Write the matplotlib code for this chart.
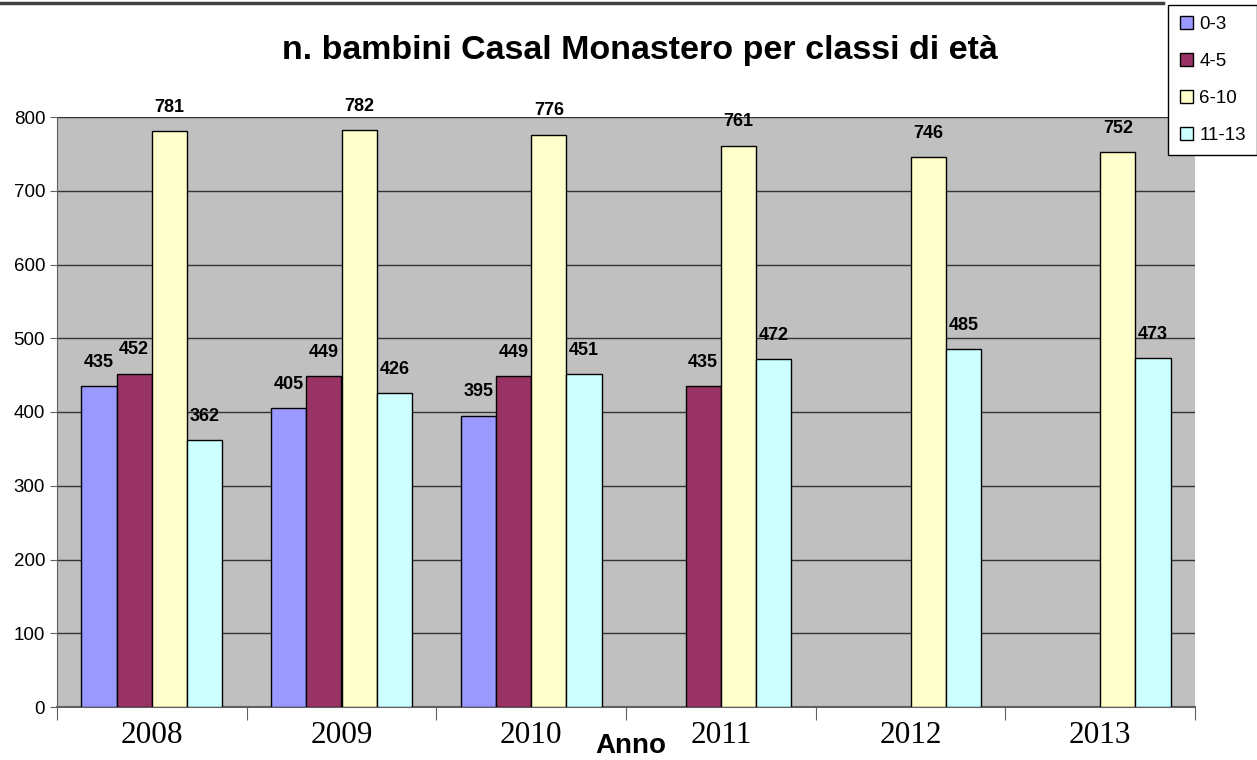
import numpy as np
import matplotlib
matplotlib.use('Agg')
import matplotlib.pyplot as plt
from matplotlib.patches import Patch
from matplotlib.lines import Line2D

# dati (None = barra assente)
anni = ['2008', '2009', '2010', '2011', '2012', '2013']
classi = ['0-3', '4-5', '6-10', '11-13']
v_0_3 = [435, 405, 395, None, None, None]
v_4_5 = [452, 449, 449, 435, None, None]
v_6_10 = [781, 782, 776, 761, 746, 752]
v_11_13 = [362, 426, 451, 472, 485, 473]
colori = ['#9999FF', '#993366', '#FFFFCC', '#CCFFFF']

plt.rcParams['font.family'] = ['Liberation Sans', 'DejaVu Sans']

fig = plt.figure(figsize=(12.57, 7.6), dpi=100)
ax = fig.add_axes([57/1257, 1-707/760, (1195-57)/1257, (707-117)/760])
ax.set_facecolor('#C0C0C0')

x = np.arange(len(anni))
w = 0.186
serie = [v_0_3, v_4_5, v_6_10, v_11_13]
for i, vals in enumerate(serie):
    off = (i - 1.5) * w
    for j, v in enumerate(vals):
        if v is None:
            continue
        ax.bar(x[j] + off, v, w, color=colori[i], edgecolor='black', linewidth=1, zorder=3)
        ax.annotate(str(v), (x[j] + off, v), xytext=(0, 11), textcoords='offset points',
                    ha='center', va='bottom', fontsize=13, fontweight='bold')

ax.set_xlim(-0.5, len(anni) - 0.5)
ax.set_ylim(0, 800)
ax.set_yticks(range(0, 801, 100))
ax.yaxis.grid(True, color='#333333', linewidth=1, zorder=0)
ax.set_axisbelow(True)
ax.tick_params(axis='y', labelsize=13.5, length=5, color='#606060')

# tick delle categorie sui bordi, etichette al centro
ax.set_xticks(np.arange(-0.5, len(anni), 1))
ax.set_xticklabels([])
ax.tick_params(axis='x', length=9, color='#606060')
ax.set_xticks(x, minor=True)
ax.set_xticklabels(anni, minor=True, fontfamily='Liberation Serif', fontsize=22.5)
ax.tick_params(axis='x', which='minor', length=0, pad=10)

for s in ['top', 'right']:
    ax.spines[s].set_visible(False)
ax.spines['left'].set_color('#606060')
ax.spines['bottom'].set_color('#606060')
ax.spines['bottom'].set_linewidth(1.5)

fig.text(640/1257, 1-50/760, 'n. bambini Casal Monastero per classi di età',
         ha='center', va='center', fontsize=24.5, fontweight='bold')
fig.text(631/1257, 1-746/760, 'Anno', ha='center', va='center', fontsize=20, fontweight='bold')

# linea in alto
fig.add_artist(Line2D([0, 1163/1257], [1-3/760, 1-3/760], color='#404040', linewidth=2.5))

handles = [Patch(facecolor=c, edgecolor='black', linewidth=1) for c in colori]
leg = fig.legend(handles, classi, loc='upper right', bbox_to_anchor=(1.0, 1 - 5/760),
                 fontsize=13.5, handlelength=0.7, handleheight=0.7, handletextpad=0.35,
                 labelspacing=1.05, borderpad=0.6, fancybox=False, framealpha=1,
                 edgecolor='black', borderaxespad=0)
leg.get_frame().set_linewidth(1)

fig.savefig('out.png', dpi=100)
